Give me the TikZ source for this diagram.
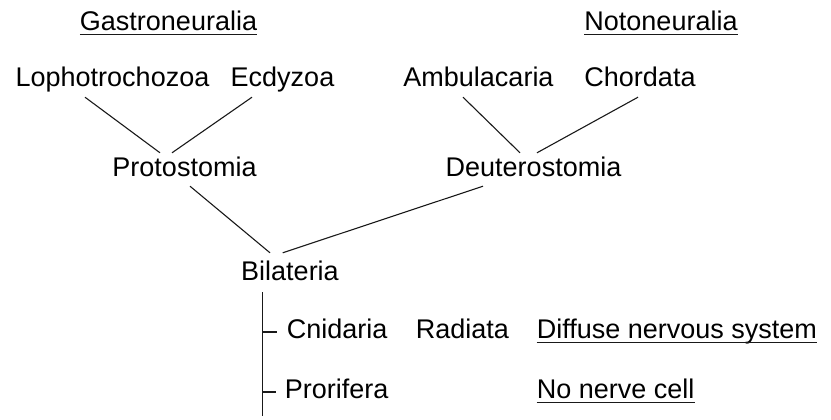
\documentclass[tikz,border=0pt]{standalone}
\usepackage{fontspec}
\setmainfont{Liberation Sans}
\usepackage{tikz}
\usetikzlibrary{positioning,calc}

\begin{document}
\begin{tikzpicture}[
    x=1pt, y=-1pt,
    taxon/.style={inner xsep=0pt, inner ysep=4pt, text height=19pt, text depth=6pt, anchor=base, font=\fontsize{27pt}{32pt}\selectfont},
    leaf/.style={taxon, anchor=base west},
    branch/.style={line width=1.1pt, draw=black!90},
    uline/.style={line width=1.1pt, draw=black!90}
]
\useasboundingbox (0,0) rectangle (831,420);

% Groups
\node[taxon] (gastro) at (168.5,31) {Gastroneuralia};
\node[taxon] (noto) at (661,31) {Notoneuralia};

% Top taxa
\node[taxon] (loph) at (112.5,87) {Lophotrochozoa};
\node[taxon] (ecdy) at (282.5,87) {Ecdyzoa};
\node[taxon] (ambu) at (478.5,87) {Ambulacaria};
\node[taxon] (chord) at (640,87) {Chordata};

% Middle taxa
\node[taxon] (proto) at (184.5,176) {Protostomia};
\node[taxon] (deut) at (533.5,176) {Deuterostomia};
\node[taxon] (bila) at (290,280) {Bilateria};

% Basal taxa
\node[leaf] (cnid) at (286.7,338) {Cnidaria};
\node[leaf] (radi) at (415.7,338) {Radiata};
\node[leaf] (diff) at (536.7,338) {Diffuse nervous system};
\node[leaf] (pror) at (284.7,398) {Prorifera};
\node[leaf] (nonerve) at (536.7,398) {No nerve cell};

% Underlines
\draw[uline] ([yshift=-3.5pt]gastro.base west) -- ([yshift=-3.5pt]gastro.base east);
\draw[uline] ([yshift=-3.5pt]noto.base west) -- ([yshift=-3.5pt]noto.base east);
\draw[uline] ([yshift=-4.5pt]diff.base west) -- ([yshift=-4.5pt]diff.base east);
\draw[uline] ([yshift=-4.5pt]nonerve.base west) -- ([yshift=-4.5pt]nonerve.base east);

% Branches
\draw[branch] ([xshift=-27.5pt]loph.south) -- ([xshift=-24.5pt]proto.north);
\draw[branch] ([xshift=-30.5pt]ecdy.south) -- ([xshift=-12.5pt]proto.north);
\draw[branch] ([xshift=-15.5pt]ambu.south) -- ([xshift=-13.5pt]deut.north);
\draw[branch] ([xshift=-2pt]chord.south) -- ([xshift=3.5pt]deut.north);
\draw[branch] ([xshift=5.5pt]proto.south) -- ([xshift=-20pt,yshift=4pt]bila.north);
\draw[branch] ([xshift=-50.5pt]deut.south) -- ([xshift=-7.3pt,yshift=4pt]bila.north);

% Trunk
\coordinate (trunktop) at ([xshift=-27.3pt,yshift=-2pt]bila.south);
\coordinate (trunkend) at (262.7,416);
\coordinate (cnidtick) at ([xshift=-10pt,yshift=6pt]cnid.base west);
\coordinate (prortick) at ([xshift=-8.5pt,yshift=6pt]pror.base west);
\draw[branch] (trunktop) -- (trunktop |- trunkend);
\draw[branch] (trunktop |- cnidtick) -- (cnidtick);
\draw[branch] (trunktop |- prortick) -- (prortick);

\end{tikzpicture}
\end{document}
